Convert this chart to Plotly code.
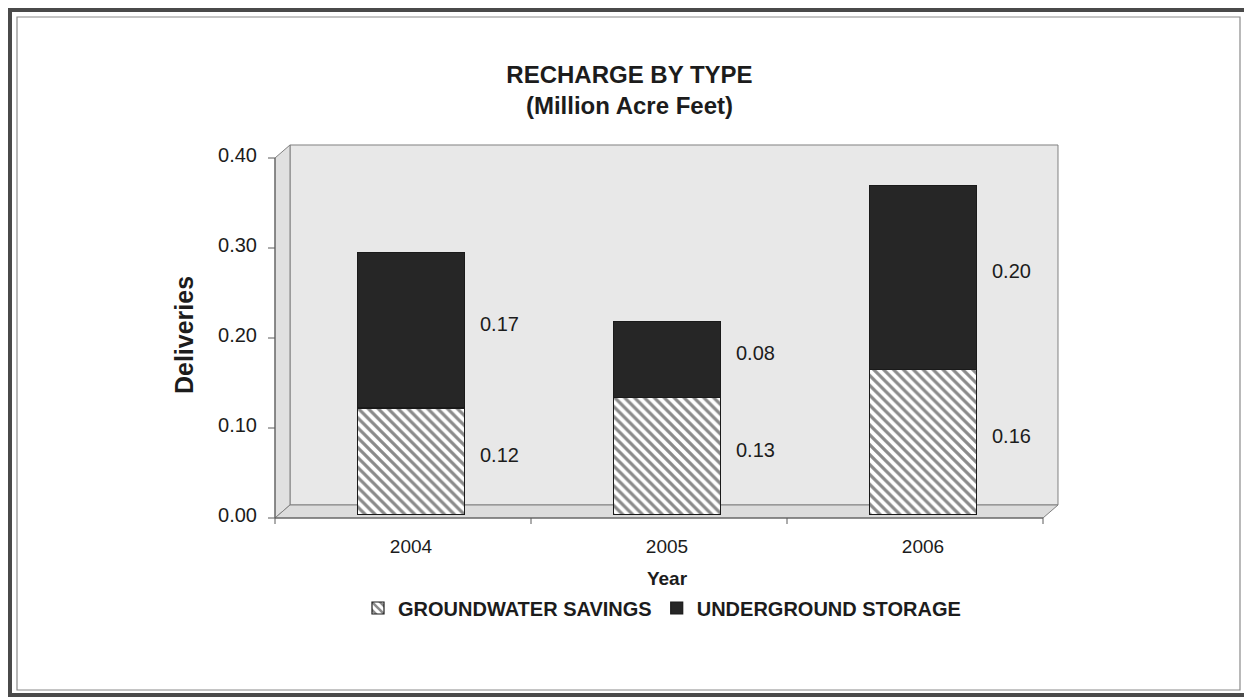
import plotly.graph_objects as go

# ---------------- data ----------------
years = ["2004", "2005", "2006"]
groundwater_savings = [0.119, 0.131, 0.162]
underground_storage = [0.173, 0.084, 0.204]
y_ticks = [0.0, 0.1, 0.2, 0.3, 0.4]
title_lines = ["RECHARGE BY TYPE", "(Million Acre Feet)"]
series_names = ["GROUNDWATER SAVINGS", "UNDERGROUND STORAGE"]
y_title = "Deliveries"
x_title = "Year"

# ---------------- geometry (pixel layout) ----------------
W, H = 1244, 700
L, R, T, B = 283, 193, 155, 185
PW = W - L - R
PH = H - T - B
FONT = "Liberation Sans, Arial, Helvetica, sans-serif"
TXT = "#1c1c1c"


def px_x(x):
    return (x - L) / PW


def px_y(y):
    return (H - B - y) / PH


def P(x, y):
    return f"{px_x(x):.5f},{px_y(y):.5f}"


# 3D frame planes
FX0, FX1, FY0, FYT = 275, 1043, 518, 158   # front plane
BX0, BX1, BY0, BYT = 290, 1058, 505, 145   # back plane
EDGE = "#808080"

shapes = []
# outer double border
shapes.append(dict(type="rect", xref="paper", yref="paper",
                   x0=px_x(10), x1=px_x(1252), y0=px_y(10), y1=px_y(695),
                   line=dict(color="#4a4a4a", width=4), layer="below"))
shapes.append(dict(type="rect", xref="paper", yref="paper",
                   x0=px_x(17), x1=px_x(1240), y0=px_y(17), y1=px_y(690),
                   line=dict(color="#8a8a8a", width=1.2), layer="below"))
# back wall
shapes.append(dict(type="path", xref="paper", yref="paper",
                   path=f"M{P(BX0,BYT)} L{P(BX1,BYT)} L{P(BX1,BY0)} L{P(BX0,BY0)} Z",
                   fillcolor="#e8e8e8", line=dict(color=EDGE, width=1), layer="below"))
# left wall
shapes.append(dict(type="path", xref="paper", yref="paper",
                   path=f"M{P(FX0,FYT)} L{P(BX0,BYT)} L{P(BX0,BY0)} L{P(FX0,FY0)} Z",
                   fillcolor="#e0e0e0", line=dict(color=EDGE, width=1), layer="below"))
# floor
shapes.append(dict(type="path", xref="paper", yref="paper",
                   path=f"M{P(FX0,FY0)} L{P(FX1,FY0)} L{P(BX1,BY0)} L{P(BX0,BY0)} Z",
                   fillcolor="#dcdcdc", line=dict(color=EDGE, width=1), layer="below"))
# front axis lines
shapes.append(dict(type="line", xref="paper", yref="paper",
                   x0=px_x(FX0), x1=px_x(FX0), y0=px_y(FYT), y1=px_y(FY0),
                   line=dict(color="#5a5a5a", width=1), layer="below"))
shapes.append(dict(type="line", xref="paper", yref="paper",
                   x0=px_x(FX0), x1=px_x(FX1), y0=px_y(FY0), y1=px_y(FY0),
                   line=dict(color="#5a5a5a", width=1), layer="below"))
# y tick marks on the front axis
scale = (FY0 - FYT) / (y_ticks[-1] - y_ticks[0])
for v in y_ticks:
    yy = FY0 - v * scale
    shapes.append(dict(type="line", xref="paper", yref="paper",
                       x0=px_x(FX0 - 7), x1=px_x(FX0), y0=px_y(yy), y1=px_y(yy),
                       line=dict(color="#5a5a5a", width=1), layer="below"))
# category boundary ticks on front floor edge
step = (FX1 - FX0) / len(years)
for k in range(len(years) + 1):
    xx = FX0 + k * step
    shapes.append(dict(type="line", xref="paper", yref="paper",
                       x0=px_x(xx), x1=px_x(xx), y0=px_y(FY0), y1=px_y(FY0 + 6),
                       line=dict(color="#5a5a5a", width=1), layer="below"))

# ---------------- traces ----------------
fig = go.Figure()
fig.add_trace(go.Bar(
    x=years, y=groundwater_savings, name=series_names[0], width=0.42,
    marker=dict(color="white", line=dict(color="#1a1a1a", width=1.2),
                pattern=dict(shape="\\", size=7, solidity=0.46, fgcolor="#151515",
                             bgcolor="white")),
    hoverinfo="skip"))
fig.add_trace(go.Bar(
    x=years, y=underground_storage, name=series_names[1], width=0.42,
    marker=dict(color="#262626", line=dict(color="#1a1a1a", width=1.2)),
    hoverinfo="skip"))

# data labels
annotations = []
for i, yr in enumerate(years):
    g = groundwater_savings[i]
    u = underground_storage[i]
    for val, mid in ((g, g / 2), (u, g + u / 2)):
        annotations.append(dict(x=i + 0.26, y=mid, xref="x", yref="y",
                                text=f"{val:.2f}", showarrow=False,
                                xanchor="left", yanchor="middle", yshift=6,
                                font=dict(family=FONT, size=20, color=TXT)))

fig.update_layout(
    width=W, height=H,
    margin=dict(l=L, r=R, t=T, b=B, pad=0),
    paper_bgcolor="white", plot_bgcolor="rgba(0,0,0,0)",
    barmode="stack", bargap=0.58,
    font=dict(family=FONT, color=TXT, size=19),
    title=dict(text="<b>" + title_lines[0] + "</b><br><b>" + title_lines[1] + "</b>",
               x=0.506, xanchor="center", y=1 - 83 / H, yanchor="top",
               yref="container", font=dict(family=FONT, size=24, color=TXT)),
    xaxis=dict(type="category", range=[-0.5, len(years) - 0.5], showgrid=False,
               showline=False, zeroline=False, ticks="", ticklabelstandoff=18,
               tickfont=dict(family=FONT, size=19, color=TXT),
               title=dict(text="<b>" + x_title + "</b>", standoff=15,
                          font=dict(family=FONT, size=19, color=TXT))),
    yaxis=dict(range=[y_ticks[0], y_ticks[-1]], tickvals=y_ticks, tickformat=".2f",
               showgrid=False, showline=False, zeroline=False, ticks="",
               ticklabelstandoff=25,
               tickfont=dict(family=FONT, size=20, color=TXT),
               title=dict(text="<b>" + y_title + "</b>", standoff=17,
                          font=dict(family=FONT, size=25, color=TXT))),
    legend=dict(orientation="h", x=px_x(662), xanchor="center",
                y=px_y(608), yanchor="middle", traceorder="normal",
                font=dict(family=FONT, size=20, color=TXT, weight="bold"),
                bgcolor="rgba(0,0,0,0)", itemwidth=30),
    shapes=shapes,
    annotations=annotations,
)

fig.write_html("out.html")
